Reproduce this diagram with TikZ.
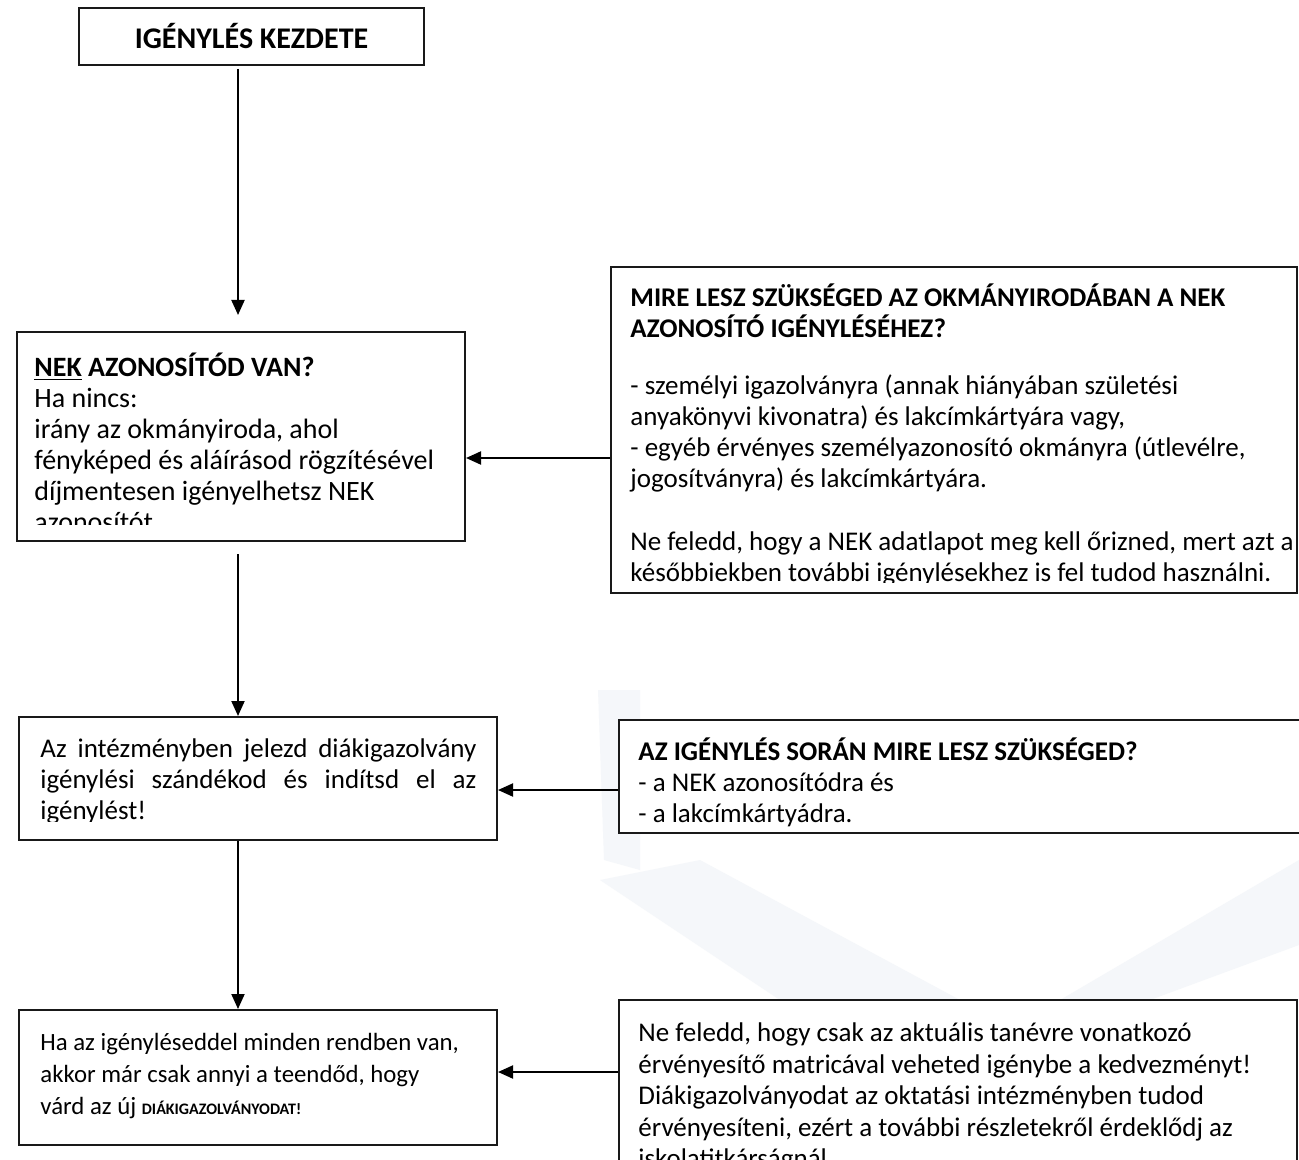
\documentclass[tikz,border=0pt]{standalone}
\usepackage{fontspec}
\setmainfont{Carlito}
\usetikzlibrary{arrows.meta, positioning, fit}

\definecolor{wmark}{RGB}{245,247,250}
\newcommand{\boxfont}[2]{\fontsize{#1}{#2}\selectfont\lineskiplimit=-20pt\relax}

\begin{document}
\begin{tikzpicture}[x=0.5pt, y=-0.5pt,
	box/.style={draw=black!90, fill=white, line width=1pt, inner sep=0pt},
	txt/.style={anchor=north west, inner sep=0pt, align=left, font=\boxfont{13.5}{15.5}},
	arr/.style={line width=1pt, -{Triangle[length=7.5pt, width=6.5pt]}}]
	\clip (0,0) rectangle (1299,1160);
	\fill[white] (0,0) rectangle (1299,1160);
	% Watermark:
	\fill[wmark] (598,690) -- (640,690) -- (640,870) -- (604,860) -- cycle;
	\fill[wmark] (600,880) -- (700,860) -- (960,1000) -- (780,1000) -- cycle;
	\fill[wmark] (1060,1000) -- (1299,860) -- (1299,945) -- (1150,1000) -- cycle;
	% Boxes:
	\node[box, fit={(79,8) (424,65)}] (start) {};
	\node[font=\boxfont{15}{16}\bfseries] (starttxt) at (start.center) {IGÉNYLÉS KEZDETE};
	\node[box, fit={(17,332) (465,541)}] (nek) {};
	\node[box, fit={(611,267) (1297,593)}] (okm) {};
	\node[box, fit={(19,717) (497,840)}] (intez) {};
	\node[box, fit={(619,720) (1303,833)}] (szuks) {};
	\node[box, fit={(19,1010) (497,1145)}] (kesz) {};
	\node[box, fit={(619,1000) (1297,1180)}] (matr) {};
	% Texts, cut at the frame:
	\begin{scope}
		\clip ([shift={(2,2)}]nek.north west) rectangle ([shift={(-2,-18)}]nek.south east);
		\node[txt, font=\boxfont{14}{15.5}] (nektxt) at ([shift={(18,22)}]nek.north west) {\strut\textbf{\underline{NEK} AZONOSÍTÓD VAN?}\\
			Ha nincs:\\
			irány az okmányiroda, ahol\\
			fényképed és aláírásod rögzítésével\\
			díjmentesen igényelhetsz NEK\\
			azonosítót.};
	\end{scope}
	\begin{scope}
		\clip ([shift={(2,2)}]okm.north west) rectangle ([shift={(-2,-12)}]okm.south east);
		\node[txt] (okmtxt) at ([shift={(20,17)}]okm.north west) {\strut\textbf{MIRE LESZ SZÜKSÉGED AZ OKMÁNYIRODÁBAN A NEK}\\
			\textbf{AZONOSÍTÓ IGÉNYLÉSÉHEZ?}\\[13pt]
			- személyi igazolványra (annak hiányában születési\\
			anyakönyvi kivonatra) és lakcímkártyára vagy,\\
			- egyéb érvényes személyazonosító okmányra (útlevélre,\\
			jogosítványra) és lakcímkártyára.\\[16pt]
			Ne feledd, hogy a NEK adatlapot meg kell őrizned, mert azt a\\
			későbbiekben további igénylésekhez is fel tudod használni.};
	\end{scope}
	\begin{scope}
		\clip ([shift={(2,2)}]intez.north west) rectangle ([shift={(-2,-20)}]intez.south east);
		\node[txt, text width=218pt, align=justify] (inteztxt) at ([shift={(22,19)}]intez.north west) {\strut Az intézményben jelezd diákigazolvány\linebreak
			igénylési szándékod és indítsd el az\linebreak
			igénylést!};
	\end{scope}
	\node[txt] (szukstxt) at ([shift={(20,18)}]szuks.north west) {\strut\textbf{AZ IGÉNYLÉS SORÁN MIRE LESZ SZÜKSÉGED?}\\
		- a NEK azonosítódra és\\
		- a lakcímkártyádra.};
	\node[txt, font=\boxfont{12.4}{16}] (kesztxt) at ([shift={(22,19)}]kesz.north west) {\strut Ha az igényléseddel minden rendben van,\\
		akkor már csak annyi a teendőd, hogy\\
		várd az új {\fontsize{8}{16}\selectfont\bfseries DIÁKIGAZOLVÁNYODAT!}};
	\node[txt, font=\boxfont{13.5}{15.8}] (matrtxt) at ([shift={(20,20)}]matr.north west) {\strut Ne feledd, hogy csak az aktuális tanévre vonatkozó\\
		érvényesítő matricával veheted igénybe a kedvezményt!\\
		Diákigazolványodat az oktatási intézményben tudod\\
		érvényesíteni, ezért a további részletekről érdeklődj az\\
		iskolatitkárságnál.};
	% Connectors:
	\coordinate (spine) at (238,0);
	\draw[arr, shorten <=1.5pt, shorten >=8pt] (start.south -| spine) -- (nek.north -| spine);
	\draw[arr, shorten <=6pt] (nek.south -| spine) -- (intez.north -| spine);
	\draw[arr] (intez.south -| spine) -- (kesz.north -| spine);
	\draw[arr] ([shift={(0,28)}]okm.west) -- ([shift={(0,28)}]okm.west -| nek.east);
	\draw[arr] ([shift={(0,13.5)}]szuks.west) -- ([shift={(0,13.5)}]szuks.west -| intez.east);
	\draw[arr] ([shift={(0,-18)}]matr.west) -- ([shift={(0,-18)}]matr.west -| kesz.east);
\end{tikzpicture}
\end{document}
